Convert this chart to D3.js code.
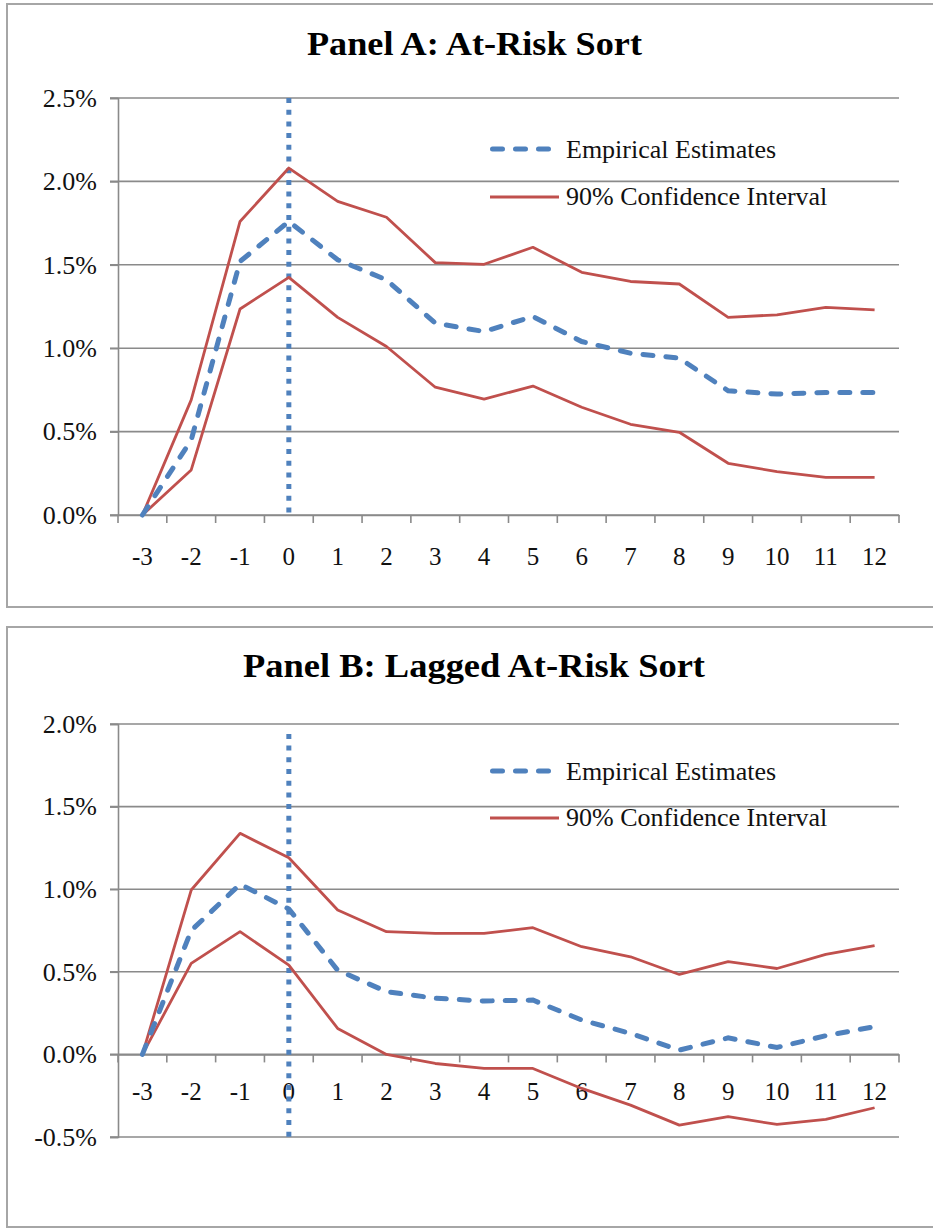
<!DOCTYPE html>
<html>
<head>
<meta charset="utf-8">
<script src="https://cdn.jsdelivr.net/npm/d3@7"></script>
<style>
  html, body { margin: 0; padding: 0; background: #fff; }
  svg { display: block; }
  text { font-family: "Liberation Serif", "Times New Roman", serif; fill: #111; }
</style>
</head>
<body>
<svg id="chart" width="933" height="1228"></svg>
<script>
// Event-time lags (months relative to the event)
const lags = ["-3","-2","-1","0","1","2","3","4","5","6","7","8","9","10","11","12"];

// Panel A: At-Risk Sort (percent)
const estimatesA = [0, 0.45, 1.52, 1.76, 1.53, 1.41, 1.15, 1.10, 1.19, 1.04, 0.97, 0.94, 0.745, 0.725, 0.735, 0.735];
const upperA     = [0, 0.69, 1.76, 2.08, 1.88, 1.785, 1.513, 1.503, 1.605, 1.455, 1.40, 1.385, 1.185, 1.20, 1.245, 1.23];
const lowerA     = [0, 0.27, 1.235, 1.425, 1.185, 1.01, 0.766, 0.695, 0.773, 0.646, 0.544, 0.496, 0.31, 0.26, 0.226, 0.226];

// Panel B: Lagged At-Risk Sort (percent)
const estimatesB = [0, 0.75, 1.03, 0.88, 0.51, 0.38, 0.34, 0.323, 0.329, 0.208, 0.127, 0.026, 0.10, 0.042, 0.113, 0.168];
const upperB     = [0, 0.995, 1.338, 1.19, 0.874, 0.743, 0.732, 0.732, 0.767, 0.652, 0.591, 0.484, 0.561, 0.52, 0.605, 0.658];
const lowerB     = [0, 0.551, 0.743, 0.54, 0.157, 0.0, -0.055, -0.085, -0.085, -0.206, -0.307, -0.428, -0.377, -0.424, -0.393, -0.323];

const ticksA = [0, 0.5, 1.0, 1.5, 2.0, 2.5];
const ticksB = [-0.5, 0, 0.5, 1.0, 1.5, 2.0];

const legendLabels = ["Empirical Estimates", "90% Confidence Interval"];

const BLUE = "#4f81bd";
const RED = "#c0504d";
const GRID = "#8a8a8a";
const FRAME = "#a6a6a6";

const svg = d3.select("#chart");
// percent labels with a plain hyphen for negatives
const pct = d => (d < 0 ? "-" : "") + Math.abs(d).toFixed(1) + "%";

function drawPanel(cfg) {
  const g = svg.append("g");

  // outer chart frame
  g.append("rect")
    .attr("x", 7).attr("y", cfg.frameTop)
    .attr("width", 940).attr("height", cfg.frameBottom - cfg.frameTop)
    .attr("fill", "#fff").attr("stroke", FRAME).attr("stroke-width", 2);

  // title
  g.append("text")
    .attr("x", cfg.titleX).attr("y", cfg.titleY)
    .attr("font-size", 33).attr("font-weight", "bold")
    .attr("textLength", cfg.titleW).attr("lengthAdjust", "spacingAndGlyphs")
    .style("fill", "#000")
    .text(cfg.title);

  const x = d3.scaleBand().domain(lags).range([118, 899]).padding(0);
  const y = d3.scaleLinear().domain(cfg.domain).range(cfg.yRange);
  const cx = d => x(d) + x.bandwidth() / 2;

  // horizontal gridlines
  g.append("g").selectAll("line").data(cfg.ticks).join("line")
    .attr("x1", 110).attr("x2", 899)
    .attr("y1", d => y(d)).attr("y2", d => y(d))
    .attr("stroke", GRID).attr("stroke-width", 1.6);

  // y axis with percent labels
  const yAxis = g.append("g").attr("transform", "translate(118,0)")
    .call(d3.axisLeft(y).tickValues(cfg.ticks).tickFormat(pct).tickSize(8).tickPadding(13));
  yAxis.select(".domain").attr("stroke", GRID).attr("stroke-width", 1.6);
  yAxis.selectAll(".tick line").attr("stroke", GRID).attr("stroke-width", 1.6);
  yAxis.selectAll(".tick text").attr("font-size", 26)
    .attr("font-family", "Liberation Serif, serif").attr("fill", "#111");

  // x axis along the zero line, ticks between categories
  const y0 = y(0);
  const xAxis = g.append("g").attr("transform", `translate(0,${y0})`)
    .call(d3.axisBottom(x).tickSize(0).tickPadding(cfg.xLabelPad));
  xAxis.select(".domain").attr("stroke", GRID).attr("stroke-width", 1.6);
  xAxis.selectAll(".tick text").attr("font-size", 25)
    .attr("font-family", "Liberation Serif, serif").attr("fill", "#111");
  const bounds = lags.map(d => x(d)).concat([x.range()[1]]);
  g.append("g").selectAll("line").data(bounds).join("line")
    .attr("x1", d => d).attr("x2", d => d)
    .attr("y1", y0).attr("y2", y0 + 8)
    .attr("stroke", GRID).attr("stroke-width", 1.6);

  // dotted marker at event month 0
  g.append("line")
    .attr("x1", cx("0")).attr("x2", cx("0"))
    .attr("y1", y(cfg.markerTop)).attr("y2", y(cfg.markerBottom))
    .attr("stroke", BLUE).attr("stroke-width", 5)
    .attr("stroke-dasharray", "5,6.7");

  const line = d3.line().x((d, i) => cx(lags[i])).y(d => y(d));

  [cfg.upper, cfg.lower].forEach(s => {
    g.append("path").datum(s).attr("d", line)
      .attr("fill", "none").attr("stroke", RED)
      .attr("stroke-width", 2.8).attr("stroke-linejoin", "round");
  });
  g.append("path").datum(cfg.est).attr("d", line)
    .attr("fill", "none").attr("stroke", BLUE)
    .attr("stroke-width", 5).attr("stroke-linecap", "round")
    .attr("stroke-dasharray", "10,13");

  // legend
  const lg = g.append("g");
  lg.append("line")
    .attr("x1", 492.5).attr("x2", 555).attr("y1", cfg.legY1).attr("y2", cfg.legY1)
    .attr("stroke", BLUE).attr("stroke-width", 5).attr("stroke-linecap", "round")
    .attr("stroke-dasharray", "10,13");
  lg.append("line")
    .attr("x1", 490).attr("x2", 559).attr("y1", cfg.legY2).attr("y2", cfg.legY2)
    .attr("stroke", RED).attr("stroke-width", 2.8);
  lg.append("text").attr("x", 566).attr("y", cfg.legY1 + 9)
    .attr("font-size", 26).text(legendLabels[0]);
  lg.append("text").attr("x", 566).attr("y", cfg.legY2 + 8)
    .attr("font-size", 26).text(legendLabels[1]);
}

drawPanel({
  title: "Panel A: At-Risk Sort",
  frameTop: 4, frameBottom: 607,
  titleX: 307, titleY: 55, titleW: 335,
  domain: [0, 2.5], yRange: [515, 98], ticks: ticksA,
  xLabelPad: 32,
  markerTop: 2.5, markerBottom: 0,
  est: estimatesA, upper: upperA, lower: lowerA,
  legY1: 149, legY2: 197
});

drawPanel({
  title: "Panel B: Lagged At-Risk Sort",
  frameTop: 627, frameBottom: 1227,
  titleX: 243, titleY: 677, titleW: 462,
  domain: [-0.5, 2.0], yRange: [1137, 724], ticks: ticksB,
  xLabelPad: 28,
  markerTop: 1.94, markerBottom: -0.5,
  est: estimatesB, upper: upperB, lower: lowerB,
  legY1: 771, legY2: 818
});
</script>
</body>
</html>
